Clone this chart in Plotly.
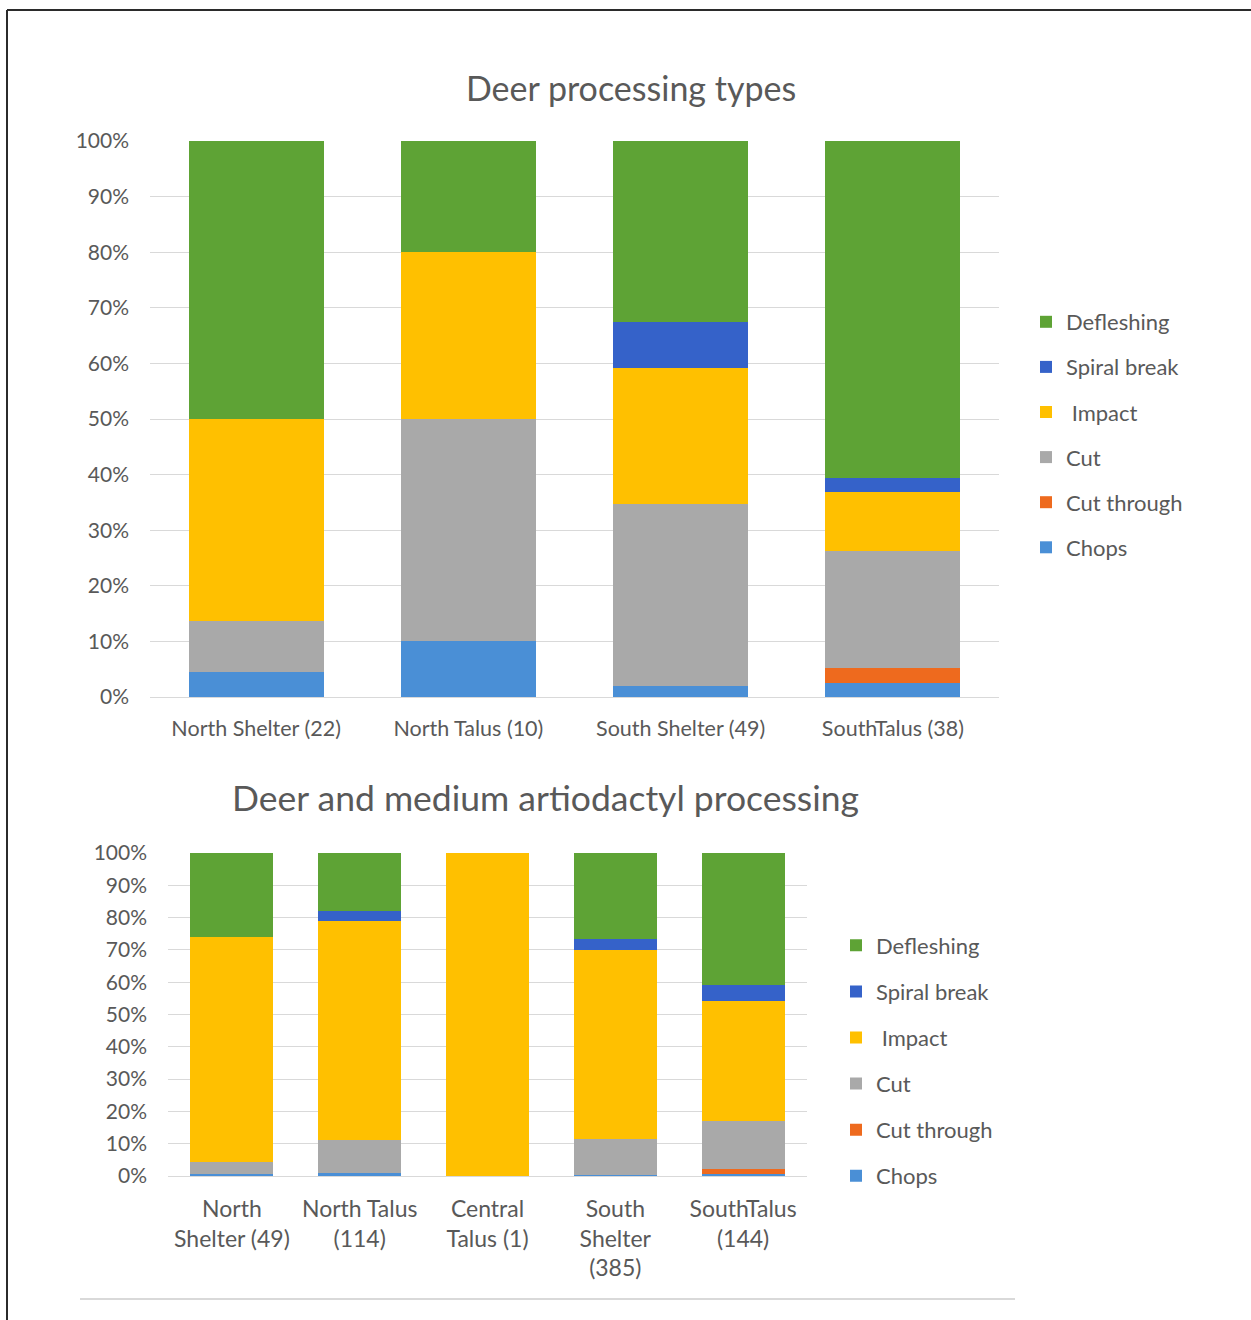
import plotly.graph_objects as go

# Deer processing types (percent of marks per site)
top_sites = ["North Shelter (22)", "North Talus (10)", "South Shelter (49)", "SouthTalus (38)"]
top_chops = [4.5, 10.0, 2.0, 2.6]
top_cut_through = [0.0, 0.0, 0.0, 2.6]
top_cut = [9.1, 40.0, 32.7, 21.1]
top_impact = [36.4, 30.0, 24.5, 10.5]
top_spiral = [0.0, 0.0, 8.2, 2.6]
top_deflesh = [50.0, 20.0, 32.6, 60.6]

# Deer and medium artiodactyl processing (percent of marks per site)
bot_sites = ["North<br>Shelter (49)", "North Talus<br>(114)", "Central<br>Talus (1)",
             "South<br>Shelter<br>(385)", "SouthTalus<br>(144)"]
bot_chops = [0.6, 0.9, 0.0, 0.3, 0.7]
bot_cut_through = [0.0, 0.0, 0.0, 0.0, 1.4]
bot_cut = [3.6, 10.2, 0.0, 11.2, 14.9]
bot_impact = [69.8, 67.8, 100.0, 58.5, 37.2]
bot_spiral = [0.0, 3.1, 0.0, 3.4, 4.9]
bot_deflesh = [26.0, 18.0, 0.0, 26.6, 40.9]

series_names = ["Chops", "Cut through", "Cut", " Impact", "Spiral break", "Defleshing"]
colors = ["#4A8FD6", "#EE6A1E", "#A9A9A9", "#FFC000", "#3562C9", "#5EA335"]

W, H = 1251, 1320
FONT = "Lato"
GRAY_TXT = "#595959"

fig = go.Figure()

top_vals = [top_chops, top_cut_through, top_cut, top_impact, top_spiral, top_deflesh]
bot_vals = [bot_chops, bot_cut_through, bot_cut, bot_impact, bot_spiral, bot_deflesh]
n = len(series_names)

# stacked bottom-up; legend lists the top segment first
for i, (name, col) in enumerate(zip(series_names, colors)):
    fig.add_trace(go.Bar(
        x=top_sites, y=[v / 100 for v in top_vals[i]], name=name,
        marker=dict(color=col, line=dict(width=0)),
        xaxis="x", yaxis="y", legend="legend", legendgroup="t" + str(i),
        legendrank=n - i, hoverinfo="skip", width=0.636,
    ))
for i, (name, col) in enumerate(zip(series_names, colors)):
    fig.add_trace(go.Bar(
        x=bot_sites, y=[v / 100 for v in bot_vals[i]], name=name,
        marker=dict(color=col, line=dict(width=0)),
        xaxis="x2", yaxis="y2", legend="legend2", legendgroup="b" + str(i),
        legendrank=n - i, hoverinfo="skip", width=0.65,
    ))

def px_x(p):
    return p / W

def px_y(p):
    return 1 - p / H

ytick_font = dict(family=FONT, size=21, color=GRAY_TXT)

fig.update_layout(
    width=W, height=H,
    margin=dict(l=0, r=0, t=0, b=0, autoexpand=False),
    paper_bgcolor="white", plot_bgcolor="white",
    barmode="stack",
    font=dict(family=FONT, color=GRAY_TXT),
    xaxis=dict(domain=[px_x(150), px_x(999)], anchor="y", showgrid=False,
               showline=True, linecolor="#D9D9D9", linewidth=1, automargin=False,
               tickfont=dict(family=FONT, size=21.5, color=GRAY_TXT), ticks="",
               ticklabelstandoff=12),
    yaxis=dict(domain=[px_y(697), px_y(141)], anchor="x", range=[0, 1],
               tickformat=".0%", dtick=0.1, showgrid=True, gridcolor="#D9D9D9",
               gridwidth=1, zeroline=False, showline=False, automargin=False,
               tickfont=ytick_font, ticks="", ticklabelstandoff=20),
    xaxis2=dict(domain=[px_x(168), px_x(807)], anchor="y2", showgrid=False,
                showline=True, linecolor="#D9D9D9", linewidth=1, automargin=False,
                tickfont=dict(family=FONT, size=23, color=GRAY_TXT), ticks="",
                ticklabelstandoff=12),
    yaxis2=dict(domain=[px_y(1176), px_y(853)], anchor="x2", range=[0, 1],
                tickformat=".0%", dtick=0.1, showgrid=True, gridcolor="#D9D9D9",
                gridwidth=1, zeroline=False, showline=False, automargin=False,
                tickfont=ytick_font, ticks="", ticklabelstandoff=20),
    legend=dict(x=px_x(1026), xanchor="left", y=px_y(435), yanchor="middle",
                traceorder="grouped", tracegroupgap=13.5,
                font=dict(family=FONT, size=22, color=GRAY_TXT),
                itemwidth=30, bgcolor="rgba(0,0,0,0)"),
    legend2=dict(x=px_x(836), xanchor="left", y=px_y(1061), yanchor="middle",
                 traceorder="grouped", tracegroupgap=14.5,
                 font=dict(family=FONT, size=22, color=GRAY_TXT),
                 itemwidth=30, bgcolor="rgba(0,0,0,0)"),
    annotations=[
        dict(text="Deer processing types", x=px_x(631), y=px_y(88),
             xref="paper", yref="paper", showarrow=False,
             xanchor="center", yanchor="middle",
             font=dict(family=FONT, size=34, color=GRAY_TXT)),
        dict(text="Deer and medium artiodactyl processing", x=px_x(545), y=px_y(798),
             xref="paper", yref="paper", showarrow=False,
             xanchor="center", yanchor="middle",
             font=dict(family=FONT, size=35.5, color=GRAY_TXT)),
    ],
    shapes=[
        dict(type="line", xref="paper", yref="paper",
             x0=px_x(7), x1=px_x(7), y0=px_y(10), y1=px_y(1320),
             line=dict(color="#2B2B2B", width=2)),
        dict(type="line", xref="paper", yref="paper",
             x0=px_x(7), x1=1, y0=px_y(10), y1=px_y(10),
             line=dict(color="#2B2B2B", width=2)),
        dict(type="line", xref="paper", yref="paper",
             x0=px_x(80), x1=px_x(1015), y0=px_y(1299), y1=px_y(1299),
             line=dict(color="#D9D9D9", width=2)),
    ],
)

fig.write_html("out.html")
